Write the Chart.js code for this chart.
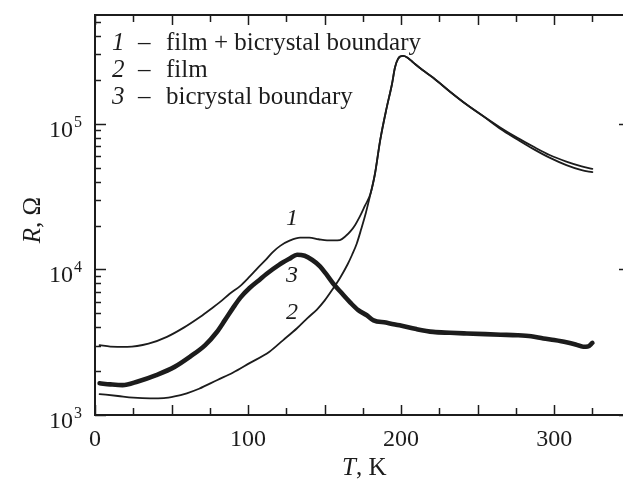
<!DOCTYPE html>
<html>
<head>
<meta charset="utf-8">
<script src="https://cdn.jsdelivr.net/npm/chart.js@4"></script>
<style>
    html, body { margin: 0; padding: 0; background: #fff; }
    #wrap { width: 623px; height: 479px; }
</style>
</head>
<body>
<div id="wrap"><canvas id="chart" width="623" height="479"></canvas></div>
<script>
// curve 1 - film + bicrystal boundary
const T1 = [3, 10, 21, 35, 47, 58, 68.6, 76, 82, 88, 95, 101, 107, 112, 116, 121, 127.5, 134, 140, 146, 151.6, 156, 160, 164, 167, 170, 173, 176.5, 180,
    183, 186.3, 190.6, 194, 196, 198, 201.3, 204, 208, 214, 221, 232, 243, 254, 265, 276, 286, 297, 308, 318, 325];
const R1 = [3015, 2950, 2940, 3090, 3440, 3980, 4710, 5370, 6000, 6800, 7700, 8900, 10400, 11750, 13100, 14500, 15800, 16500, 16500, 16100, 15800, 15800, 15900, 17000, 18300, 20200, 23000, 27500, 33000,
    45700, 76600, 129000, 186000, 243000, 279000, 292000, 285000, 263000, 234000, 207000, 166000, 135000, 112000, 94000, 80000, 70000, 61000, 55000, 51000, 49000];

// curve 2 - film
const T2 = [3, 15, 25, 36, 45, 52, 60, 68, 80, 90, 101, 114, 123, 132, 139, 145, 150, 155.6, 160, 165, 168, 171, 174, 177, 180,
    183, 186.3, 190.6, 194, 196, 198, 201.3, 204, 208, 214, 221, 232, 243, 254, 265, 276, 286, 297, 308, 318, 325];
const R2 = [1393, 1350, 1315, 1300, 1305, 1340, 1410, 1514, 1740, 1950, 2270, 2720, 3270, 3940, 4650, 5300, 6100, 7400, 8700, 10800, 12600, 15000, 19000, 24500, 33000,
    45700, 76600, 129000, 186000, 243000, 279000, 292000, 285000, 263000, 234000, 207000, 166000, 135000, 112000, 92000, 78000, 67500, 58500, 52000, 48000, 46500];

// curve 3 - bicrystal boundary
const T3 = [3, 10, 18, 28, 40, 52, 62, 72, 79.5, 85, 90, 95, 101, 107, 112, 120, 127.5, 132, 137, 142, 147, 151, 155.6, 161, 167, 172, 177.6, 182,
    190, 199, 210, 221, 232, 243, 255, 265, 276, 285, 293, 300, 308, 314, 319, 322, 325];
const R3 = [1650, 1622, 1603, 1700, 1880, 2140, 2510, 3020, 3700, 4500, 5400, 6400, 7450, 8400, 9300, 10700, 11900, 12600, 12400, 11600, 10500, 9300, 8000, 6900, 5890, 5250, 4840, 4470,
    4310, 4130, 3890, 3720, 3670, 3630, 3590, 3560, 3530, 3470, 3350, 3270, 3160, 3050, 2940, 2950, 3130];

const xTicks = [0, 25, 50, 75, 100, 125, 150, 175, 200, 225, 250, 275, 300, 325];
const xLabels = [0, 100, 200, 300];
const yMajor = [1e3, 1e4, 1e5];
const yExp = ['3', '4', '5'];
const yMinor = [2e3, 3e3, 4e3, 5e3, 6e3, 7e3, 8e3, 9e3, 2e4, 3e4, 4e4, 5e4, 6e4, 7e4, 8e4, 9e4, 2e5, 3e5, 4e5, 5e5];
const legendNums = ['1', '2', '3'];
const legendTexts = ['film + bicrystal boundary', 'film', 'bicrystal boundary'];

const INK = '#1c1c1c';
const SERIF = '"Liberation Serif", "DejaVu Serif", serif';

const toPoints = (xs, ys) => xs.map((x, i) => ({ x: x, y: ys[i] }));

const decor = {
    id: 'decor',
    afterDraw(chart) {
        const ctx = chart.ctx;
        const { left, right, top, bottom } = chart.chartArea;
        const xs = chart.scales.x;
        const ys = chart.scales.y;

        ctx.save();
        ctx.strokeStyle = INK;
        ctx.fillStyle = INK;

        // frame (right side is cut off in the original)
        ctx.lineWidth = 2;
        ctx.beginPath();
        ctx.moveTo(right, top);
        ctx.lineTo(left, top);
        ctx.lineTo(left, bottom);
        ctx.lineTo(right, bottom);
        ctx.stroke();

        // x ticks, bottom and top, pointing inward
        ctx.lineWidth = 1.5;
        xTicks.forEach(v => {
            const px = Math.round(xs.getPixelForValue(v)) + 0.5;
            const len = v % 50 === 0 ? 10 : 7;
            ctx.beginPath();
            ctx.moveTo(px, bottom);
            ctx.lineTo(px, bottom - len);
            ctx.moveTo(px, top);
            ctx.lineTo(px, top + len);
            ctx.stroke();
        });

        // y ticks
        yMajor.forEach(v => {
            const py = Math.round(ys.getPixelForValue(v)) + 0.5;
            ctx.beginPath();
            ctx.moveTo(left, py);
            ctx.lineTo(left + 11, py);
            ctx.moveTo(right, py);
            ctx.lineTo(right - 4, py);
            ctx.stroke();
        });
        yMinor.forEach(v => {
            const py = Math.round(ys.getPixelForValue(v)) + 0.5;
            ctx.beginPath();
            ctx.moveTo(left, py);
            ctx.lineTo(left + 6, py);
            ctx.stroke();
        });

        // x tick labels
        ctx.font = '24px ' + SERIF;
        ctx.textAlign = 'center';
        ctx.textBaseline = 'alphabetic';
        xLabels.forEach(v => {
            ctx.fillText(String(v), xs.getPixelForValue(v), bottom + 31);
        });

        // y tick labels 10^n
        yMajor.forEach((v, i) => {
            const py = ys.getPixelForValue(v);
            ctx.font = '24px ' + SERIF;
            ctx.textAlign = 'right';
            ctx.fillText('10', 73, py + 13);
            ctx.font = '16px ' + SERIF;
            ctx.textAlign = 'left';
            ctx.fillText(yExp[i], 74, py + 3);
        });

        // axis titles
        ctx.textAlign = 'left';
        ctx.font = 'italic 25px ' + SERIF;
        let x0 = 342;
        ctx.fillText('T', x0, 475);
        x0 += ctx.measureText('T').width;
        ctx.font = '25px ' + SERIF;
        ctx.fillText(', K', x0, 475);

        ctx.save();
        ctx.translate(40, 220);
        ctx.rotate(-Math.PI / 2);
        ctx.font = 'italic 25px ' + SERIF;
        const wR = ctx.measureText('R').width;
        ctx.font = '25px ' + SERIF;
        const wRest = ctx.measureText(', \u03a9').width;
        const sx = -(wR + wRest) / 2;
        ctx.font = 'italic 25px ' + SERIF;
        ctx.fillText('R', sx, 0);
        ctx.font = '25px ' + SERIF;
        ctx.fillText(', \u03a9', sx + wR, 0);
        ctx.restore();

        // legend inside the plot
        legendNums.forEach((n, i) => {
            const by = 50 + i * 27;
            ctx.font = 'italic 25px ' + SERIF;
            ctx.fillText(n, 112, by);
            ctx.font = '25px ' + SERIF;
            ctx.fillText('\u2013', 138, by);
            ctx.fillText(legendTexts[i], 166, by);
        });

        // curve tags
        ctx.font = 'italic 24px ' + SERIF;
        ctx.textAlign = 'center';
        ctx.textBaseline = 'middle';
        const tx = xs.getPixelForValue(128.8);
        ctx.fillText('1', tx, ys.getPixelForValue(22300));
        ctx.fillText('3', tx, ys.getPixelForValue(9100));
        ctx.fillText('2', tx, ys.getPixelForValue(5070));

        ctx.restore();
    }
};

new Chart(document.getElementById('chart'), {
    type: 'line',
    data: {
        datasets: [
            { label: '1', data: toPoints(T1, R1), borderColor: INK, borderWidth: 1.8 },
            { label: '2', data: toPoints(T2, R2), borderColor: INK, borderWidth: 1.8 },
            { label: '3', data: toPoints(T3, R3), borderColor: INK, borderWidth: 4.6 }
        ]
    },
    options: {
        responsive: false,
        animation: false,
        devicePixelRatio: 1,
        layout: { padding: { left: 95, top: 15, right: 0, bottom: 64 } },
        elements: {
            point: { radius: 0 },
            line: { cubicInterpolationMode: 'monotone', fill: false, borderCapStyle: 'round', borderJoinStyle: 'round' }
        },
        scales: {
            x: { type: 'linear', min: 0, max: 345, display: false },
            y: { type: 'logarithmic', min: 1000, max: 558000, display: false }
        },
        plugins: {
            legend: { display: false },
            tooltip: { enabled: false }
        }
    },
    plugins: [decor]
});
</script>
</body>
</html>
